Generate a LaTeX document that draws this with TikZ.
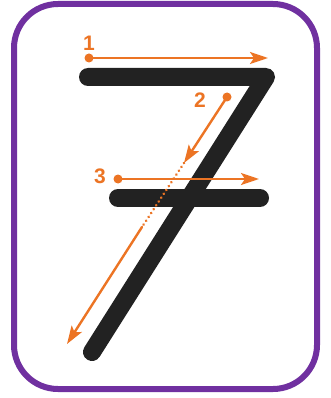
\documentclass[tikz,border=0pt]{standalone}
\usepackage{fontspec}
\setmainfont{Liberation Sans}
\usetikzlibrary{arrows.meta}
\definecolor{sevenPurple}{HTML}{7030A0}
\definecolor{sevenInk}{HTML}{222222}
\definecolor{sevenOrange}{HTML}{EC7424}
\begin{document}
\begin{tikzpicture}[x=1pt,y=-1pt,>={Stealth[length=18pt,width=12pt,inset=4pt]},line cap=round,line join=round]
\path[fill=white,use as bounding box] (0,0) rectangle (330,398);
\tikzset{stroke/.style={draw=sevenInk,line width=18pt},guide/.style={draw=sevenOrange,line width=2.4pt},startdot/.style={circle,fill=sevenOrange,inner sep=0pt,minimum size=9pt},numlabel/.style={text=sevenOrange,font=\bfseries\fontsize{21}{21}\selectfont}}
\draw[draw=sevenPurple,line width=6pt,rounded corners=44pt] (14,4) rectangle (317,389);
% the figure seven
\draw[stroke] (88,77) -- (266,77) -- (92,352); \draw[stroke] (118,198) -- (260,198);
% stroke 1
\node[startdot] (s1) at (89,58) {}; \coordinate (e1) at (268,58);
\node[numlabel] (n1) at (89,43) {1}; \draw[guide,->] (s1.center) -- (e1);
% stroke 2
\node[startdot] (s2) at (227,97) {}; \coordinate (e2) at (184,163); \coordinate (d2) at (142,227); \coordinate (f2) at (67,344);
\node[numlabel] (n2) at (200,100) {2}; \draw[guide,->] (s2.center) -- (e2);
\draw[guide,line width=2.8pt,dash pattern=on 0.1pt off 4.5pt] (e2) -- (d2); \draw[guide,->] (d2) -- (f2);
% stroke 3
\node[startdot] (s3) at (118,179) {}; \coordinate (e3) at (259,179);
\node[numlabel] (n3) at (100,176) {3}; \draw[guide,->] (s3.center) -- (e3);
\end{tikzpicture}
\end{document}
